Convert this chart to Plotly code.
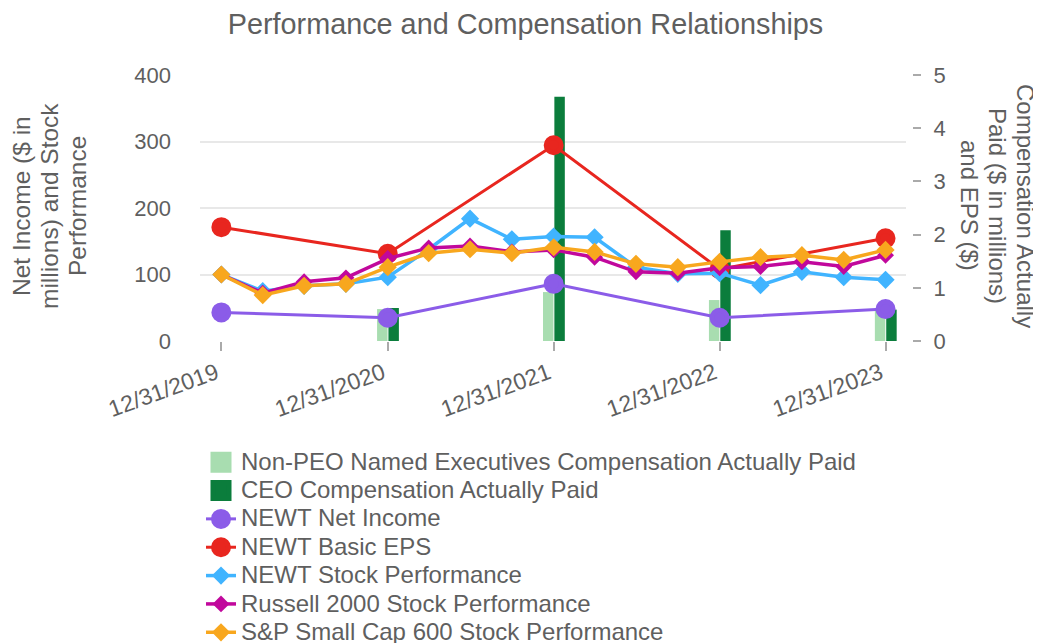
import plotly.graph_objects as go

# ---------------- data ----------------
annual_dates = ["2019-12-31", "2020-12-31", "2021-12-31", "2022-12-31", "2023-12-31"]
bar_dates = ["2020-12-31", "2021-12-31", "2022-12-31", "2023-12-31"]
quarter_dates = [
    "2019-12-31", "2020-03-31", "2020-06-30", "2020-09-30", "2020-12-31",
    "2021-03-31", "2021-06-30", "2021-09-30", "2021-12-31",
    "2022-03-31", "2022-06-30", "2022-09-30", "2022-12-31",
    "2023-03-31", "2023-06-30", "2023-09-30", "2023-12-31",
]
tick_labels = ["12/31/2019", "12/31/2020", "12/31/2021", "12/31/2022", "12/31/2023"]

neo_cap = [0.60, 0.92, 0.77, 0.62]          # Non-PEO CAP ($M)
ceo_cap = [0.62, 4.59, 2.08, 0.59]          # CEO CAP ($M)
net_income = [43, 35, 86, 35, 48]           # $M
basic_eps = [2.14, 1.64, 3.68, 1.35, 1.93]  # $
newt_stock = [100, 75, 83, 86, 96, 138, 184, 153, 157, 156, 111, 101, 102, 84, 104, 96, 92]
russell_2000 = [100, 72, 89, 95, 124, 140, 143, 134, 137, 126, 104, 102, 110, 112, 119, 112, 129]
sp_600 = [100, 69, 83, 86, 111, 132, 138, 132, 141, 134, 116, 111, 119, 126, 129, 122, 137]

names = [
    "Non-PEO Named Executives Compensation Actually Paid",
    "CEO Compensation Actually Paid",
    "NEWT Net Income",
    "NEWT Basic EPS",
    "NEWT Stock Performance",
    "Russell 2000 Stock Performance",
    "S&P Small Cap 600 Stock Performance",
]

# ---------------- style ----------------
C_LG = "#a8ddb0"
C_DG = "#0b7d3c"
C_PU = "#8b5ce8"
C_RD = "#e8261f"
C_BL = "#40b4ff"
C_MG = "#c1089c"
C_OR = "#f8a71e"
TXT = "#5f5f5f"
FONT = "Liberation Sans, Arial, sans-serif"

O = 8  # page body margin
W, H = 1041 - O, 643 - O
# plot area in page pixels: x 200..906 (axis at 912), y 75..341
L = 200 - O
T = 75 - O
R = W - (912 - O)
B = H - (341 - O)
PW = W - L - R
PH = H - T - B
DAY = 86400000


def px_x(x):  # page px -> paper
    return (x - O - L) / PW


def px_y(y):
    return (341 - y) / PH


def leg(name):
    return '<span style="font-size:24px">' + name + "</span>"


fig = go.Figure()

# legend proxies for the bar series (bigger square swatches)
fig.add_trace(go.Scatter(x=[None], y=[None], mode="markers", name=leg(names[0]),
                         marker=dict(symbol="square", size=16, color=C_LG,
                                     line=dict(color=C_LG, width=5)), yaxis="y"))
fig.add_trace(go.Scatter(x=[None], y=[None], mode="markers", name=leg(names[1]),
                         marker=dict(symbol="square", size=16, color=C_DG,
                                     line=dict(color=C_DG, width=5)), yaxis="y"))

# bars (right axis, main y)
fig.add_trace(go.Bar(x=bar_dates, y=neo_cap, name=names[0], showlegend=False,
                     marker=dict(color=C_LG, line=dict(width=0)),
                     width=23 * DAY, offset=-23.5 * DAY, yaxis="y"))
fig.add_trace(go.Bar(x=bar_dates, y=ceo_cap, name=names[1], showlegend=False,
                     marker=dict(color=C_DG, line=dict(width=0)),
                     width=23 * DAY, offset=1.5 * DAY, yaxis="y"))

# lines
fig.add_trace(go.Scatter(x=annual_dates, y=net_income, name=leg(names[2]), mode="lines+markers",
                         line=dict(color=C_PU, width=3),
                         marker=dict(symbol="circle", size=15, color=C_PU,
                                     line=dict(color=C_PU, width=5)), yaxis="y2"))
fig.add_trace(go.Scatter(x=annual_dates, y=basic_eps, name=leg(names[3]), mode="lines+markers",
                         line=dict(color=C_RD, width=3),
                         marker=dict(symbol="circle", size=15, color=C_RD,
                                     line=dict(color=C_RD, width=5)), yaxis="y"))
fig.add_trace(go.Scatter(x=quarter_dates, y=newt_stock, name=leg(names[4]), mode="lines+markers",
                         line=dict(color=C_BL, width=3.5),
                         marker=dict(symbol="diamond", size=14, color=C_BL), yaxis="y2"))
fig.add_trace(go.Scatter(x=quarter_dates, y=russell_2000, name=leg(names[5]), mode="lines+markers",
                         line=dict(color=C_MG, width=3.5),
                         marker=dict(symbol="diamond", size=13, color=C_MG), yaxis="y2"))
fig.add_trace(go.Scatter(x=quarter_dates, y=sp_600, name=leg(names[6]), mode="lines+markers",
                         line=dict(color=C_OR, width=3.5),
                         marker=dict(symbol="diamond", size=14, color=C_OR), yaxis="y2"))

fig.update_layout(
    width=W, height=H,
    margin=dict(l=L, r=R, t=T, b=B, autoexpand=False),
    paper_bgcolor="white", plot_bgcolor="white",
    font=dict(family=FONT, color=TXT, size=22),
    barmode="overlay",
    title=dict(text="Performance and Compensation Relationships",
               font=dict(size=28.8, color=TXT, family=FONT),
               x=(525.5 - O) / W, xref="container", xanchor="center",
               y=1 - (24 - O) / H, yref="container", yanchor="middle"),
    xaxis=dict(type="date", range=["2019-11-14", "2024-02-14"],
               domain=[0, (906 - O - L) / PW],
               tickvals=annual_dates, ticktext=tick_labels, tickangle=-20,
               ticks="outside", ticklen=9, tickwidth=2, tickcolor="#aaaaaa",
               ticklabelshift=-5,
               showgrid=False, zeroline=False, showline=False,
               tickfont=dict(size=23, color=TXT)),
    yaxis=dict(range=[0, 5], tickvals=[0, 1, 2, 3, 4, 5], side="right",
               anchor="free", position=1,
               ticks="outside", ticklen=8, tickwidth=2, tickcolor="#aaaaaa",
               ticklabelstandoff=8,
               showgrid=False, zeroline=False, showline=False,
               tickfont=dict(size=22, color=TXT)),
    yaxis2=dict(range=[0, 400], tickvals=[0, 100, 200, 300, 400], side="left",
                overlaying="y", anchor="x",
                showgrid=True, gridcolor="#e8e8e8", gridwidth=2,
                zeroline=False, showline=False, ticks="",
                ticklabelstandoff=28,
                tickfont=dict(size=22, color=TXT)),
    legend=dict(orientation="v", x=px_x(201), y=px_y(443), xanchor="left", yanchor="top",
                font=dict(size=19.5, color=TXT, family=FONT),
                bgcolor="rgba(0,0,0,0)", traceorder="normal", itemwidth=30),
    showlegend=True,
)

# axis titles, one annotation per line for tight line spacing
left_lines = ["Net Income ($ in", "millions) and Stock", "Performance"]
left_x = [22, 50, 78]
for txt, xp in zip(left_lines, left_x):
    fig.add_annotation(text=txt, x=px_x(xp), y=px_y(206), xref="paper", yref="paper",
                       showarrow=False, textangle=-90, xanchor="center", yanchor="middle",
                       font=dict(size=24.5, color=TXT, family=FONT))
right_lines = ["Compensation Actually", "Paid ($ in millions)", "and EPS ($)"]
right_x = [1025, 997, 969]
for txt, xp in zip(right_lines, right_x):
    fig.add_annotation(text=txt, x=px_x(xp), y=px_y(206), xref="paper", yref="paper",
                       showarrow=False, textangle=90, xanchor="center", yanchor="middle",
                       font=dict(size=24, color=TXT, family=FONT))

fig.write_html("out.html")
